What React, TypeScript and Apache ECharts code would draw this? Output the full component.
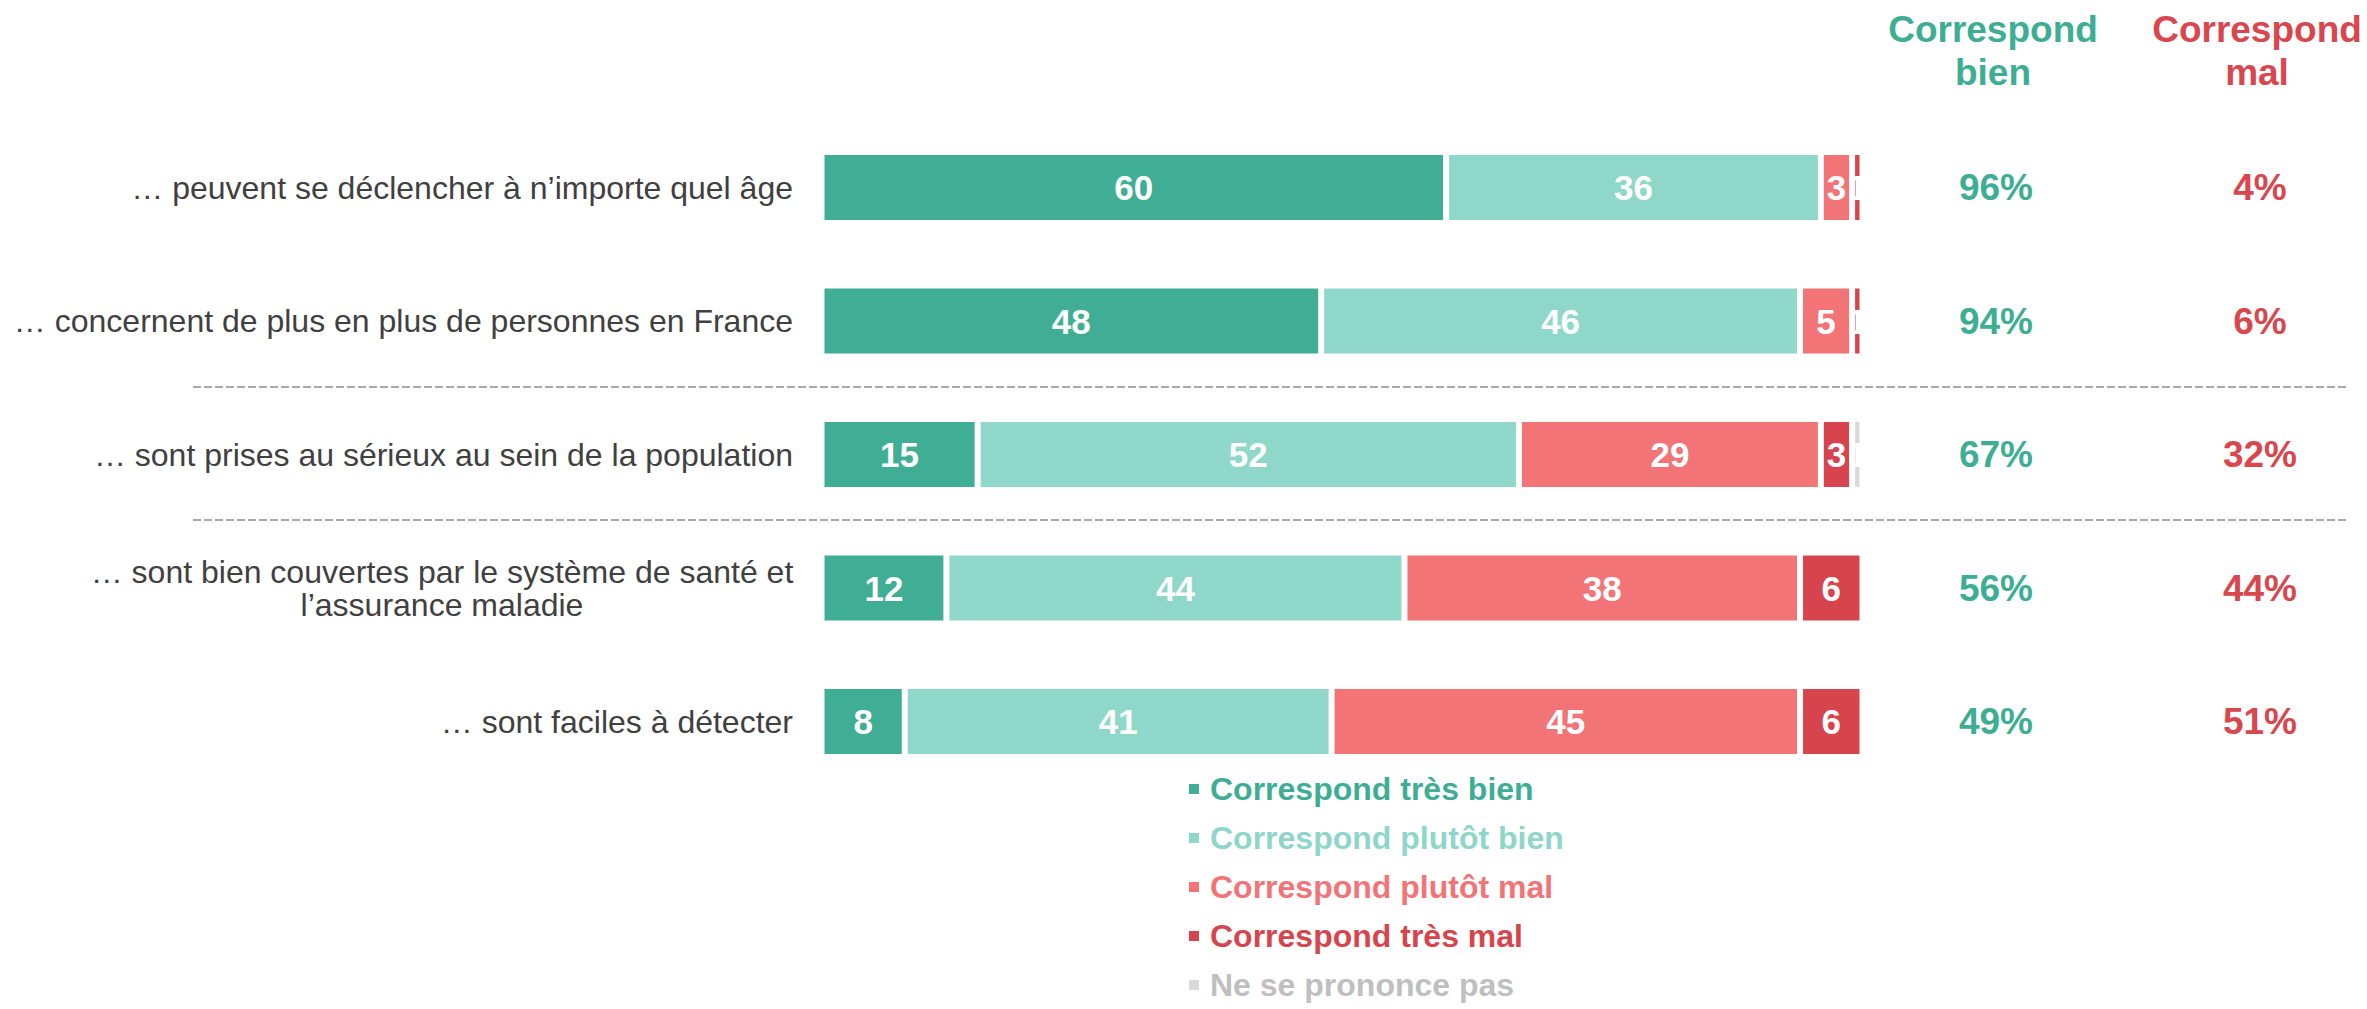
import React, { useEffect, useRef } from "react";
import * as echarts from "echarts";

const categories = [
  "… peuvent se déclencher à n’importe quel âge",
  "… concernent de plus en plus de personnes en France",
  "… sont prises au sérieux au sein de la population",
  "… sont bien couvertes par le système de santé et\nl’assurance maladie",
  "… sont faciles à détecter",
];

const seriesNames = [
  "Correspond très bien",
  "Correspond plutôt bien",
  "Correspond plutôt mal",
  "Correspond très mal",
  "Ne se prononce pas",
];

const tresBien = [60, 48, 15, 12, 8];
const plutotBien = [36, 46, 52, 44, 41];
const plutotMal = [3, 5, 29, 38, 45];
const tresMal = [1, 1, 3, 6, 6];
const nsp: (number | null)[] = [null, null, 1, null, null];

const barColors = ["#40AE94", "#8FD7C8", "#F27477", "#D7444D", "#D9D9D9"];
const legendTextColors = ["#3DAE93", "#8ED6C8", "#F27476", "#D6454D", "#BFBFBF"];

const GREEN = "#3DAE93";
const RED = "#D9464E";
const FONT = "'Liberation Sans', Arial, sans-serif";

export default function App() {
  const ref = useRef<HTMLDivElement>(null);

  useEffect(() => {
    document.body.style.margin = "0";
    const chart = echarts.init(ref.current!, undefined, { renderer: "svg" });

    const green = tresBien.map((v, i) => v + plutotBien[i]);
    const red = plutotMal.map((v, i) => v + tresMal[i]);

    const values = [tresBien, plutotBien, plutotMal, tresMal, nsp];

    const series = values.map((data, k) => ({
      name: seriesNames[k],
      type: "bar",
      stack: "total",
      barWidth: 71,
      data,
      itemStyle: { color: barColors[k], borderColor: "#ffffff", borderWidth: 3 },
      label: {
        show: true,
        position: "inside",
        color: "#ffffff",
        fontFamily: FONT,
        fontWeight: "bold",
        fontSize: 35,
        formatter: (p: any) => (p.value ? String(p.value) : ""),
      },
    }));

    const option: any = {
      animation: false,
      textStyle: { fontFamily: FONT },
      grid: { left: 821.5, right: 504.5, top: 120.75, height: 667.5 },
      xAxis: { type: "value", min: 0, max: 100, show: false },
      yAxis: [
        {
          type: "category",
          data: categories,
          inverse: true,
          axisLine: { show: false },
          axisTick: { show: false },
          axisLabel: {
            margin: 28.5,
            color: "#404040",
            fontSize: 32,
            fontFamily: FONT,
            lineHeight: 33,
            formatter: (v: string) =>
              v.indexOf("\n") >= 0 ? `{c|${v}}` : v,
            rich: {
              c: {
                width: 702,
                align: "center",
                color: "#404040",
                fontSize: 32,
                fontFamily: FONT,
                lineHeight: 33,
              },
            },
          },
        },
        {
          type: "category",
          data: categories,
          inverse: true,
          position: "right",
          axisLine: { show: false },
          axisTick: { show: false },
          axisLabel: {
            margin: 1.5,
            align: "left",
            formatter: (_v: string, i: number) => `{g|${green[i]}%}{r|${red[i]}%}`,
            rich: {
              g: {
                width: 264,
                align: "center",
                color: GREEN,
                fontSize: 37,
                fontWeight: "bold",
                fontFamily: FONT,
              },
              r: {
                width: 264,
                align: "center",
                color: RED,
                fontSize: 37,
                fontWeight: "bold",
                fontFamily: FONT,
              },
            },
          },
        },
      ],
      legend: {
        orient: "vertical",
        left: 1182,
        top: 768,
        height: 400,
        itemWidth: 12,
        itemHeight: 12,
        itemGap: 17,
        icon: "rect",
        data: seriesNames.map((n, i) => ({
          name: n,
          textStyle: {
            color: legendTextColors[i],
            fontSize: 32,
            fontWeight: "bold",
            fontFamily: FONT,
            padding: [0, 0, 0, 5],
          },
        })),
      },
      graphic: [
        {
          type: "text",
          x: 1993,
          y: 8,
          style: {
            text: "Correspond\nbien",
            fill: GREEN,
            fontSize: 37,
            fontWeight: "bold",
            fontFamily: FONT,
            lineHeight: 43,
            align: "center",
            verticalAlign: "top",
          },
        },
        {
          type: "text",
          x: 2257,
          y: 8,
          style: {
            text: "Correspond\nmal",
            fill: RED,
            fontSize: 37,
            fontWeight: "bold",
            fontFamily: FONT,
            lineHeight: 43,
            align: "center",
            verticalAlign: "top",
          },
        },
        {
          type: "line",
          shape: { x1: 193, y1: 387, x2: 2346, y2: 387 },
          style: { stroke: "#A8A8A8", lineWidth: 2, lineDash: [8, 3] },
        },
        {
          type: "line",
          shape: { x1: 193, y1: 520, x2: 2346, y2: 520 },
          style: { stroke: "#A8A8A8", lineWidth: 2, lineDash: [8, 3] },
        },
      ],
      series,
    };

    chart.setOption(option);
    return () => chart.dispose();
  }, []);

  return <div ref={ref} style={{ width: 2367, height: 1009 }} />;
}
